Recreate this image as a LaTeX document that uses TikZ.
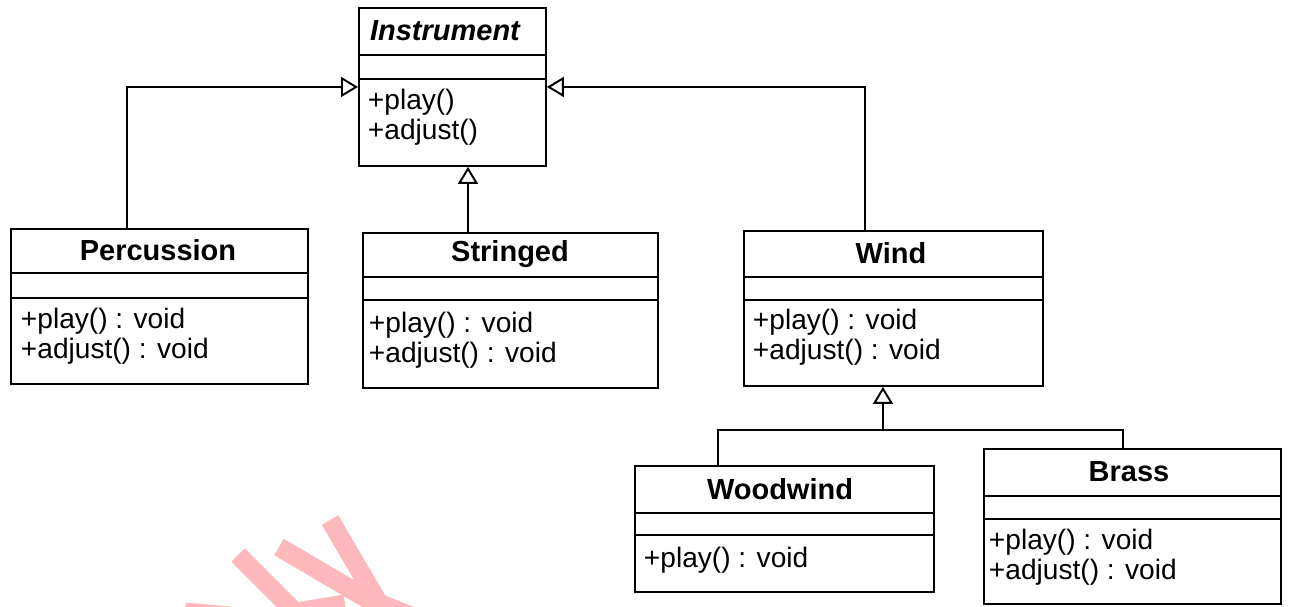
\documentclass[tikz,border=0pt]{standalone}
\usepackage{fontspec}
\setmainfont{Liberation Sans}
\usetikzlibrary{arrows.meta}
\newcommand*{\classfont}{\fontsize{16}{17}\selectfont}
\newcommand*{\titlefont}{\fontsize{16.5}{18}\selectfont\bfseries}
\definecolor{stamp}{RGB}{252,184,186}
\tikzset{classbox/.style={draw, anchor=north west, inner sep=0pt}}

\begin{document}
\begin{tikzpicture}[x=0.02cm, y=-0.02cm, line width=1.1pt,
    title/.style={inner sep=0pt, font=\titlefont},
    members/.style={anchor=west, inner sep=0pt, align=left, font=\classfont},
    inherit/.style={-{Triangle[open, length=0.34cm, width=0.4cm]}}]
    \useasboundingbox (0,0) rectangle (1289,606);

    % stamp in the corner
    \begin{scope}
        \clip (0,0) rectangle (1289,606);
        \draw [stamp, line width=0.38cm] (238,555) -- (300,617);
        \draw [stamp, line width=0.38cm] (185,612) -- (230,616);
        \draw [stamp, line width=0.38cm] (290,613) -- (345,604);
        \draw [stamp, line width=0.38cm] (381,604) -- (440,628);
        \draw [stamp, line width=0.38cm, line join=miter] (279,547) -- (381,607) -- (330,520);
    \end{scope}

    % Instrument
    \node [classbox, minimum width=3.74cm, minimum height=3.16cm] (instr) at (358,7) {};
    \node [title, font=\titlefont\itshape] (instr-t) at (445,31) {Instrument};
    \draw ([yshift=-0.96cm]instr.north west) -- ([yshift=-0.96cm]instr.north east);
    \draw ([yshift=-1.44cm]instr.north west) -- ([yshift=-1.44cm]instr.north east);
    \node [members] (instr-m) at (367,117.5) {+play()\\+adjust()};

    % Percussion
    \node [classbox, minimum width=5.94cm, minimum height=3.10cm] (perc) at (10,228) {};
    \node [title] (perc-t) at (158,250.5) {Percussion};
    \draw ([yshift=-0.90cm]perc.north west) -- ([yshift=-0.90cm]perc.north east);
    \draw ([yshift=-1.40cm]perc.north west) -- ([yshift=-1.40cm]perc.north east);
    \node [members] (perc-m) at (20,336) {+play() : void\\+adjust() : void};

    % Stringed
    \node [classbox, minimum width=5.90cm, minimum height=3.10cm] (str) at (362,232) {};
    \node [title] (str-t) at (510,254.5) {Stringed};
    \draw ([yshift=-0.90cm]str.north west) -- ([yshift=-0.90cm]str.north east);
    \draw ([yshift=-1.36cm]str.north west) -- ([yshift=-1.36cm]str.north east);
    \node [members] (str-m) at (368,340) {+play() : void\\+adjust() : void};

    % Wind
    \node [classbox, minimum width=5.98cm, minimum height=3.10cm] (wind) at (743,230) {};
    \node [title] (wind-t) at (891,253.5) {Wind};
    \draw ([yshift=-0.94cm]wind.north west) -- ([yshift=-0.94cm]wind.north east);
    \draw ([yshift=-1.40cm]wind.north west) -- ([yshift=-1.40cm]wind.north east);
    \node [members] (wind-m) at (752,337.5) {+play() : void\\+adjust() : void};

    % Woodwind
    \node [classbox, minimum width=5.98cm, minimum height=2.52cm] (wood) at (634,465) {};
    \node [title] (wood-t) at (780,489) {Woodwind};
    \draw ([yshift=-0.96cm]wood.north west) -- ([yshift=-0.96cm]wood.north east);
    \draw ([yshift=-1.40cm]wood.north west) -- ([yshift=-1.40cm]wood.north east);
    \node [members] (wood-m) at (643,560) {+play() : void};

    % Brass
    \node [classbox, minimum width=5.94cm, minimum height=3.10cm] (brass) at (983,448) {};
    \node [title] (brass-t) at (1129,472) {Brass};
    \draw ([yshift=-0.96cm]brass.north west) -- ([yshift=-0.96cm]brass.north east);
    \draw ([yshift=-1.42cm]brass.north west) -- ([yshift=-1.42cm]brass.north east);
    \node [members] (brass-m) at (988,557.5) {+play() : void\\+adjust() : void};

    % generalisations
    \draw [inherit] ([xshift=2.34cm]perc.north west) |- (instr.west);
    \draw [inherit] ([xshift=2.12cm]str.north west) -- ([xshift=2.2cm]instr.south west);
    \draw [inherit] ([xshift=2.44cm]wind.north west) |- (instr.east);
    \coordinate (fork) at (883,430);
    \draw ([xshift=1.68cm]wood.north west) |- (fork);
    \draw ([xshift=2.8cm]brass.north west) |- (fork);
    \draw [inherit] (fork) -- ([xshift=2.8cm]wind.south west);
\end{tikzpicture}
\end{document}
